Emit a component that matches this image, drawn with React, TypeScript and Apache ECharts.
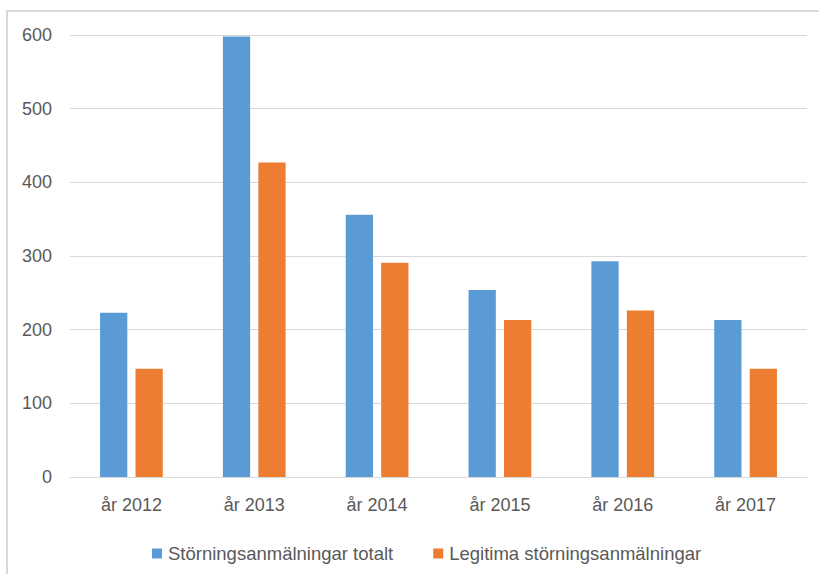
import React, { useEffect, useRef } from "react";
import * as echarts from "echarts";

const categories = ["år 2012", "år 2013", "år 2014", "år 2015", "år 2016", "år 2017"];
const totalReports = [223, 598, 356, 254, 293, 213];
const legitimateReports = [147, 427, 291, 213, 226, 147];
const seriesNames = ["Störningsanmälningar totalt", "Legitima störningsanmälningar"];

const FONT = "'Liberation Sans', Arial, sans-serif";

export default function App() {
  const ref = useRef<HTMLDivElement>(null);
  useEffect(() => {
    if (!ref.current) return;
    const chart = echarts.init(ref.current, undefined, { renderer: "svg" });
    chart.setOption({
      animation: false,
      backgroundColor: "#ffffff",
      textStyle: { fontFamily: FONT },
      graphic: [
        {
          type: "rect",
          shape: { x: 7, y: 11, width: 900, height: 700 },
          style: { fill: "none", stroke: "#D9D9D9", lineWidth: 2 },
          silent: true,
        },
      ],
      grid: { left: 70, right: 12, top: 35, bottom: 97, containLabel: false },
      legend: {
        data: seriesNames,
        left: 147,
        top: 539,
        itemWidth: 10,
        itemHeight: 10,
        itemGap: 40,
        icon: "rect",
        textStyle: { fontFamily: FONT, fontSize: 18.5, color: "#595959", padding: [0, 0, 0, 1] },
      },
      xAxis: {
        type: "category",
        data: categories,
        axisLine: { show: true, lineStyle: { color: "#D9D9D9", width: 1 } },
        axisTick: { show: false },
        axisLabel: { fontFamily: FONT, fontSize: 18, color: "#595959", margin: 19 },
      },
      yAxis: {
        type: "value",
        min: 0,
        max: 600,
        interval: 100,
        axisLine: { show: false },
        axisTick: { show: false },
        splitLine: { lineStyle: { color: "#D9D9D9", width: 1 } },
        axisLabel: { fontFamily: FONT, fontSize: 18, color: "#595959", margin: 18 },
      },
      series: [
        {
          name: seriesNames[0],
          type: "bar",
          data: totalReports,
          barWidth: "22.2%",
          barGap: "30%",
          itemStyle: { color: "#5B9BD5" },
        },
        {
          name: seriesNames[1],
          type: "bar",
          data: legitimateReports,
          barWidth: "22.2%",
          itemStyle: { color: "#ED7D31" },
        },
      ],
    });
    return () => chart.dispose();
  }, []);
  return (
    <div
      ref={ref}
      style={{ position: "fixed", left: 0, top: 0, width: 819, height: 574, background: "#fff" }}
    />
  );
}
